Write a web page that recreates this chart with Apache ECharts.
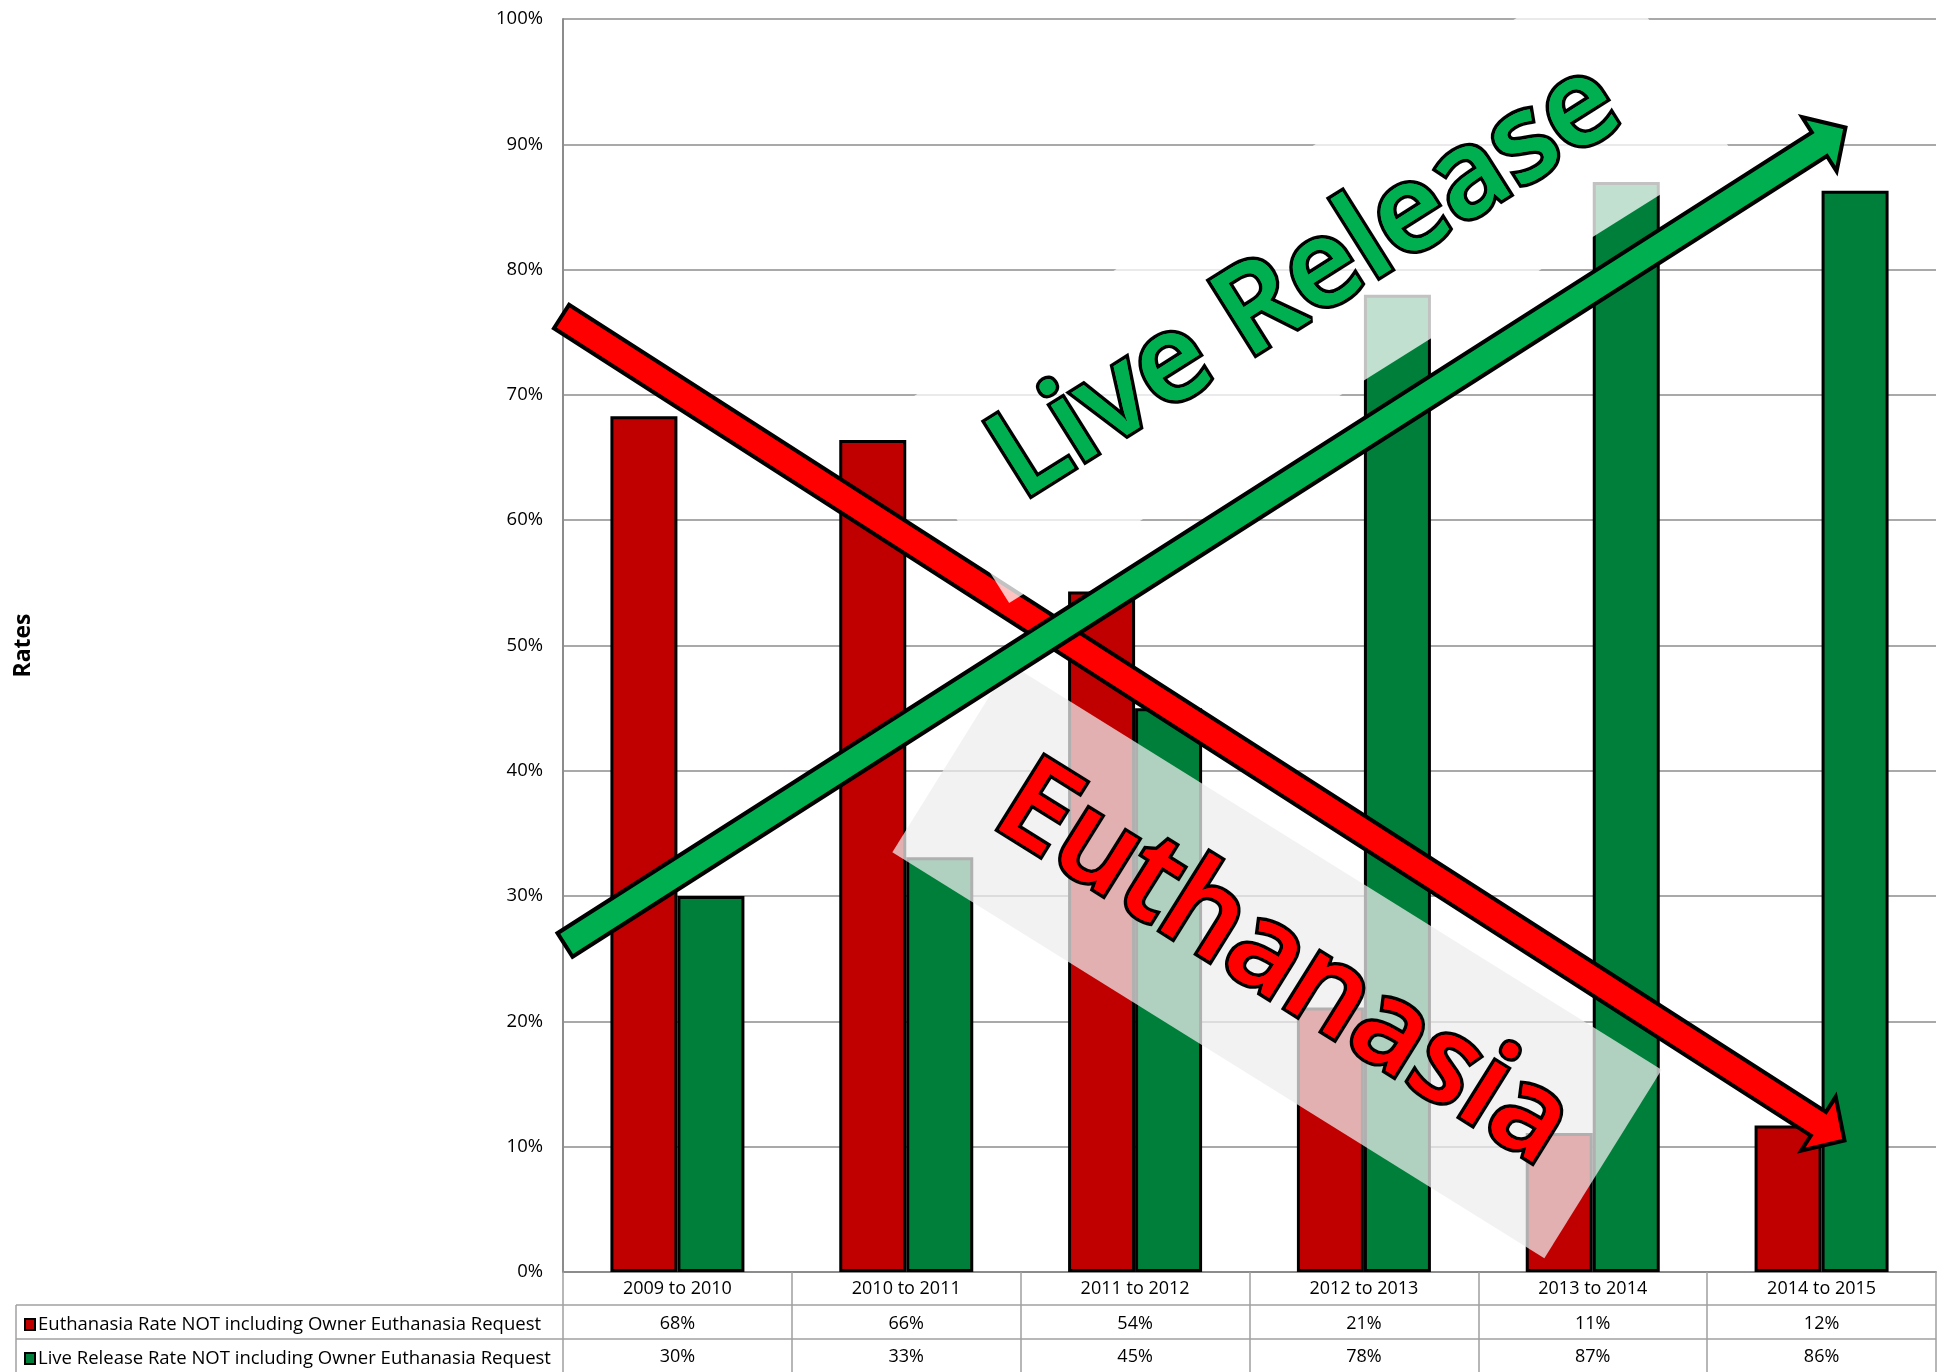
<!DOCTYPE html>
<html>
<head>
<meta charset="utf-8">
<script src="https://cdn.jsdelivr.net/npm/echarts@6/dist/echarts.min.js"></script>
<style>
html,body{margin:0;padding:0;background:#ffffff;}
#chart{width:1948px;height:1372px;}
</style>
</head>
<body>
<div id="chart"></div>
<script>
// ---- data ----
const categories = ['2009 to 2010', '2010 to 2011', '2011 to 2012', '2012 to 2013', '2013 to 2014', '2014 to 2015'];
const euthanasiaRate = [68.3, 66.4, 54.3, 21.1, 11.1, 11.7];
const liveReleaseRate = [30.0, 33.1, 45.0, 78.0, 87.0, 86.3];
const seriesNames = ['Euthanasia Rate NOT including Owner Euthanasia Request', 'Live Release Rate NOT including Owner Euthanasia Request'];
const yAxisTitle = 'Rates';
const annotationLabels = ['Live Release', 'Euthanasia'];

// ---- styling ----
const FONT = '"Open Sans", "DejaVu Sans", sans-serif';
const RED_BAR = '#C00000';
const GREEN_BAR = '#007F3A';
const RED_ARROW = '#FF0000';
const GREEN_ARROW = '#00B050';
const GRID_GRAY = '#8c8c8c';
const TABLE_GRAY = '#a0a0a0';

const G = { left: 563, right: 12, top: 19, bottom: 100 };
const W = 1948, H = 1372;
const plotRight = W - G.right;
const axisY = H - G.bottom;
const rowH = [33, 34, 34];

function arrowPoints(tail, tip, s, h, L) {
  const dx = tip[0] - tail[0], dy = tip[1] - tail[1];
  const len = Math.sqrt(dx * dx + dy * dy);
  const ux = dx / len, uy = dy / len;
  const nx = -uy, ny = ux;
  const bx = tip[0] - ux * L, by = tip[1] - uy * L;
  return [
    [tail[0] + nx * s, tail[1] + ny * s],
    [bx + nx * s, by + ny * s],
    [bx + nx * h, by + ny * h],
    [tip[0], tip[1]],
    [bx - nx * h, by - ny * h],
    [bx - nx * s, by - ny * s],
    [tail[0] - nx * s, tail[1] - ny * s]
  ];
}
const deg = Math.PI / 180;

const row1 = axisY + rowH[0];
const row2 = row1 + rowH[1];
const row3 = row2 + rowH[2];

function bigText(label, cx, cy, rot, color, z) {
  const base = { text: label, font: '600 121px ' + FONT, fontSize: 121, fontWeight: 600, fontFamily: FONT,
    align: 'center', verticalAlign: 'middle', textAlign: 'center', textVerticalAlign: 'middle' };
  return [
    { type: 'text', z: z, x: cx, y: cy, rotation: rot,
      style: Object.assign({}, base, { fill: color, stroke: '#000', lineWidth: 7, lineJoin: 'round',
        shadowBlur: 6, shadowColor: 'rgba(0,0,0,0.6)', shadowOffsetX: 3, shadowOffsetY: 3 }) },
    { type: 'text', z: z + 1, x: cx, y: cy, rotation: rot,
      style: Object.assign({}, base, { fill: color }) }
  ];
}

const graphics = [
  // table lines
  { type: 'line', z: 5, shape: { x1: 16, y1: row1, x2: plotRight, y2: row1 }, style: { stroke: TABLE_GRAY, lineWidth: 1.5 } },
  { type: 'line', z: 5, shape: { x1: 16, y1: row2, x2: plotRight, y2: row2 }, style: { stroke: TABLE_GRAY, lineWidth: 1.5 } },
  { type: 'line', z: 5, shape: { x1: 16, y1: row3, x2: plotRight, y2: row3 }, style: { stroke: TABLE_GRAY, lineWidth: 1.5 } },
  { type: 'line', z: 5, shape: { x1: 16, y1: row1, x2: 16, y2: H }, style: { stroke: TABLE_GRAY, lineWidth: 1.5 } },
  // Euthanasia translucent box
  { type: 'rect', z: 10, x: 1277, y: 961, rotation: -31.9 * deg,
    shape: { x: -384, y: -111, width: 768, height: 222 },
    style: { fill: 'rgba(238,238,238,0.74)' } },
  // red arrow
  { type: 'polygon', z: 11,
    shape: { points: arrowPoints([561.5, 316.5], [1844.5, 1140.5], 14, 32, 31) },
    style: { fill: RED_ARROW, stroke: '#000', lineWidth: 4, lineJoin: 'miter' } },
  // Live release translucent box
  { type: 'rect', z: 12, x: 1310, y: 281, rotation: 32.1 * deg,
    shape: { x: -426, y: -113, width: 852, height: 226 },
    style: { fill: 'rgba(255,255,255,0.76)' } },
  // green arrow
  { type: 'polygon', z: 13,
    shape: { points: arrowPoints([565, 945], [1845.5, 127.5], 14, 32, 31) },
    style: { fill: GREEN_ARROW, stroke: '#000', lineWidth: 4, lineJoin: 'miter' } }
].concat(
  bigText(annotationLabels[0], 1306, 282, 32.1 * deg, GREEN_ARROW, 14),
  bigText(annotationLabels[1], 1283, 966, -31.9 * deg, RED_ARROW, 16)
);

const chart = echarts.init(document.getElementById('chart'), null, { renderer: 'canvas' });

const tableLabel = { color: '#000', fontSize: 18, fontFamily: FONT, lineHeight: 18, margin: 7 };
const legendBase = {
  orient: 'horizontal', left: 19, itemGap: 4,
  itemWidth: 10, itemHeight: 11, icon: 'rect',
  itemStyle: { borderColor: '#000', borderWidth: 2 },
  textStyle: { color: '#000', fontSize: 18.5, fontFamily: FONT, padding: [0, 0, 0, -2] }
};

const option = {
  animation: false,
  backgroundColor: '#ffffff',
  grid: { left: G.left, right: G.right, top: G.top, bottom: G.bottom, containLabel: false },
  legend: [
    Object.assign({}, legendBase, { top: row1 + 5, data: [seriesNames[0]] }),
    Object.assign({}, legendBase, { top: row2 + 5, data: [seriesNames[1]] })
  ],
  xAxis: [
    {
      type: 'category', data: categories, gridIndex: 0, position: 'bottom',
      axisLine: { show: true, lineStyle: { color: GRID_GRAY, width: 2 } },
      axisTick: { show: true, length: H - axisY, lineStyle: { color: TABLE_GRAY, width: 1.5 } },
      axisLabel: Object.assign({}, tableLabel, { margin: 8 })
    },
    {
      type: 'category', data: categories, gridIndex: 0, position: 'bottom', offset: rowH[0],
      axisLine: { show: false }, axisTick: { show: false },
      axisLabel: Object.assign({}, tableLabel, { margin: 10, formatter: (v, i) => Math.round(euthanasiaRate[i]) + '%' })
    },
    {
      type: 'category', data: categories, gridIndex: 0, position: 'bottom', offset: rowH[0] + rowH[1],
      axisLine: { show: false }, axisTick: { show: false },
      axisLabel: Object.assign({}, tableLabel, { margin: 9, formatter: (v, i) => Math.round(liveReleaseRate[i]) + '%' })
    }
  ],
  yAxis: {
    type: 'value', min: 0, max: 100, interval: 10,
    name: yAxisTitle, nameLocation: 'middle', nameRotate: 90, nameGap: 528,
    nameTextStyle: { color: '#000', fontSize: 23, fontWeight: 'bold', fontFamily: FONT },
    axisLine: { show: true, lineStyle: { color: GRID_GRAY, width: 2 } },
    axisTick: { show: false },
    axisLabel: { formatter: '{value}%', color: '#000', fontSize: 18.5, fontFamily: FONT, margin: 20 },
    splitLine: { show: true, lineStyle: { color: GRID_GRAY, width: 1.5 } }
  },
  series: [
    {
      name: seriesNames[0], type: 'bar', xAxisIndex: 0, data: euthanasiaRate,
      barWidth: 67, barGap: '0%',
      itemStyle: { color: RED_BAR, borderColor: '#000', borderWidth: 3 }
    },
    {
      name: seriesNames[1], type: 'bar', xAxisIndex: 0, data: liveReleaseRate,
      barWidth: 67, barGap: '0%',
      itemStyle: { color: GREEN_BAR, borderColor: '#000', borderWidth: 3 }
    }
  ],
  graphic: { elements: graphics }
};

chart.setOption(option);
</script>
</body>
</html>
